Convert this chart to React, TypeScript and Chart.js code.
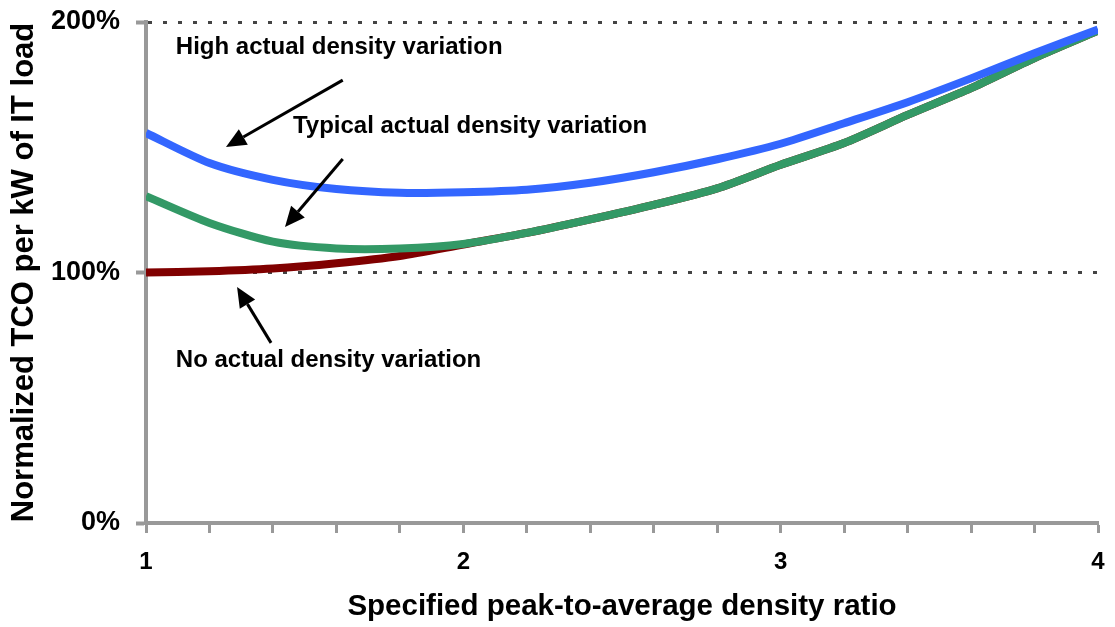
import React, { useEffect, useRef } from "react";
import { Chart, registerables } from "chart.js";

Chart.register(...registerables);

const xValues = [1, 1.2, 1.4, 1.6, 1.8, 2, 2.2, 2.4, 2.6, 2.8, 3, 3.2, 3.4, 3.6, 3.8, 4];
const highVariation = [155.7, 143.7, 137, 133.3, 131.8, 132, 133, 135.8, 140, 145.2, 151.4, 159.6, 168, 177.5, 187.5, 197];
const typicalVariation = [130.5, 119.8, 112.3, 109.6, 109.6, 111.4, 115.8, 121.2, 127, 133.6, 143, 151.7, 162.9, 173.6, 185.6, 196.5];
const noVariation = [100, 100.5, 101.6, 103.7, 106.6, 111.2, 115.8, 121.2, 127, 133.6, 143, 151.7, 162.9, 173.6, 185.6, 196.5];
const seriesNames = ["High actual density variation", "Typical actual density variation", "No actual density variation"];
const yTickValues = [0, 100, 200];
const xTitle = "Specified peak-to-average density ratio";
const yTitle = "Normalized TCO per kW of IT load";

const FONT = "'Liberation Sans', Arial, Helvetica, sans-serif";

type Note = { text: string; tx: number; ty: number; ax1: number; ay1: number; ax2: number; ay2: number };
const notes: Note[] = [
  { text: seriesNames[0], tx: 1.094, ty: 190, ax1: 1.62, ay1: 176.8, ax2: 1.252, ay2: 150.1 },
  { text: seriesNames[1], tx: 1.463, ty: 158.5, ax1: 1.62, ay1: 145.3, ax2: 1.438, ay2: 118.2 },
  { text: seriesNames[2], tx: 1.094, ty: 65, ax1: 1.394, ay1: 71.9, ax2: 1.287, ay2: 94.2 },
];

const annotationPlugin = {
  id: "notes",
  afterDatasetsDraw(chart: any) {
    const { ctx, scales } = chart;
    const xs = scales.x;
    const ys = scales.y;
    ctx.save();
    ctx.fillStyle = "#000";
    ctx.strokeStyle = "#000";
    ctx.font = `bold 24px ${FONT}`;
    ctx.textAlign = "left";
    ctx.textBaseline = "middle";
    for (const n of notes) {
      ctx.fillText(n.text, xs.getPixelForValue(n.tx), ys.getPixelForValue(n.ty));
      const x1 = xs.getPixelForValue(n.ax1);
      const y1 = ys.getPixelForValue(n.ay1);
      const x2 = xs.getPixelForValue(n.ax2);
      const y2 = ys.getPixelForValue(n.ay2);
      const ang = Math.atan2(y2 - y1, x2 - x1);
      const headLen = 20;
      const headW = 9;
      const bx = x2 - headLen * Math.cos(ang);
      const by = y2 - headLen * Math.sin(ang);
      ctx.lineWidth = 3;
      ctx.beginPath();
      ctx.moveTo(x1, y1);
      ctx.lineTo(bx, by);
      ctx.stroke();
      ctx.beginPath();
      ctx.moveTo(x2, y2);
      ctx.lineTo(bx + headW * Math.sin(ang), by - headW * Math.cos(ang));
      ctx.lineTo(bx - headW * Math.sin(ang), by + headW * Math.cos(ang));
      ctx.closePath();
      ctx.fill();
    }
    ctx.restore();
  },
};

export default function App() {
  const ref = useRef<HTMLCanvasElement | null>(null);
  useEffect(() => {
    document.body.style.margin = "0";
    if (!ref.current) return;
    const mk = (arr: number[]) => xValues.map((x, i) => ({ x, y: arr[i] }));
    const chart = new Chart(ref.current, {
      type: "line",
      data: {
        datasets: [
          { label: seriesNames[0], data: mk(highVariation), borderColor: "#3366FF", backgroundColor: "#3366FF" },
          { label: seriesNames[1], data: mk(typicalVariation), borderColor: "#339966", backgroundColor: "#339966" },
          { label: seriesNames[2], data: mk(noVariation), borderColor: "#800000", backgroundColor: "#800000" },
        ],
      },
      options: {
        animation: false,
        responsive: false,
        maintainAspectRatio: false,
        layout: { padding: { top: 22, right: 17, bottom: 0, left: 0 } },
        elements: {
          line: { borderWidth: 8, tension: 0.25, fill: false, borderCapStyle: "butt" },
          point: { radius: 0, hoverRadius: 0 },
        },
        plugins: { legend: { display: false }, tooltip: { enabled: false } },
        scales: {
          x: {
            type: "linear",
            min: 1,
            max: 4,
            afterFit: (s: any) => {
              s.height = 104;
              s.paddingLeft = 0;
              s.paddingRight = 0;
            },
            ticks: {
              stepSize: 0.2,
              autoSkip: false,
              maxRotation: 0,
              padding: 15,
              color: "#000",
              font: { family: FONT, size: 24, weight: "bold" },
              callback: (v: any) => {
                const n = Number(v);
                return Math.abs(n - Math.round(n)) < 1e-6 ? String(Math.round(n)) : "";
              },
            },
            grid: { drawOnChartArea: false, drawTicks: true, tickLength: 10, tickColor: "#999999", tickWidth: 3 },
            border: { color: "#999999", width: 4 },
            title: { display: true, text: xTitle, color: "#000", font: { family: FONT, size: 29.5, weight: "bold" }, padding: { top: 0, bottom: 2 } },
          },
          y: {
            type: "linear",
            min: 0,
            max: 200,
            afterFit: (s: any) => {
              s.width = 146;
              s.paddingTop = 0;
              s.paddingBottom = 0;
            },
            afterBuildTicks: (s: any) => { s.ticks = yTickValues.map((v) => ({ value: v })); },
            ticks: {
              padding: 16,
              color: "#000",
              font: { family: FONT, size: 27, weight: "bold" },
              callback: (v: any) => `${v}%`,
            },
            grid: {
              color: (c: any) => (c.tick && c.tick.value === 0 ? "rgba(0,0,0,0)" : "#444444"),
              lineWidth: 3,
              drawTicks: true,
              tickLength: 10,
              tickColor: "#999999",
              tickWidth: 4,
            },
            border: { color: "#999999", width: 4, dash: [4, 11] },
            title: { display: true, text: yTitle, color: "#000", font: { family: FONT, size: 31, weight: "bold" }, padding: { top: 6, bottom: 0 } },
          },
        },
      },
      plugins: [annotationPlugin],
    } as any);
    return () => chart.destroy();
  }, []);
  return (
    <div style={{ width: 1115, height: 627, background: "#fff" }}>
      <canvas ref={ref} width={1115} height={627} style={{ display: "block" }} />
    </div>
  );
}
